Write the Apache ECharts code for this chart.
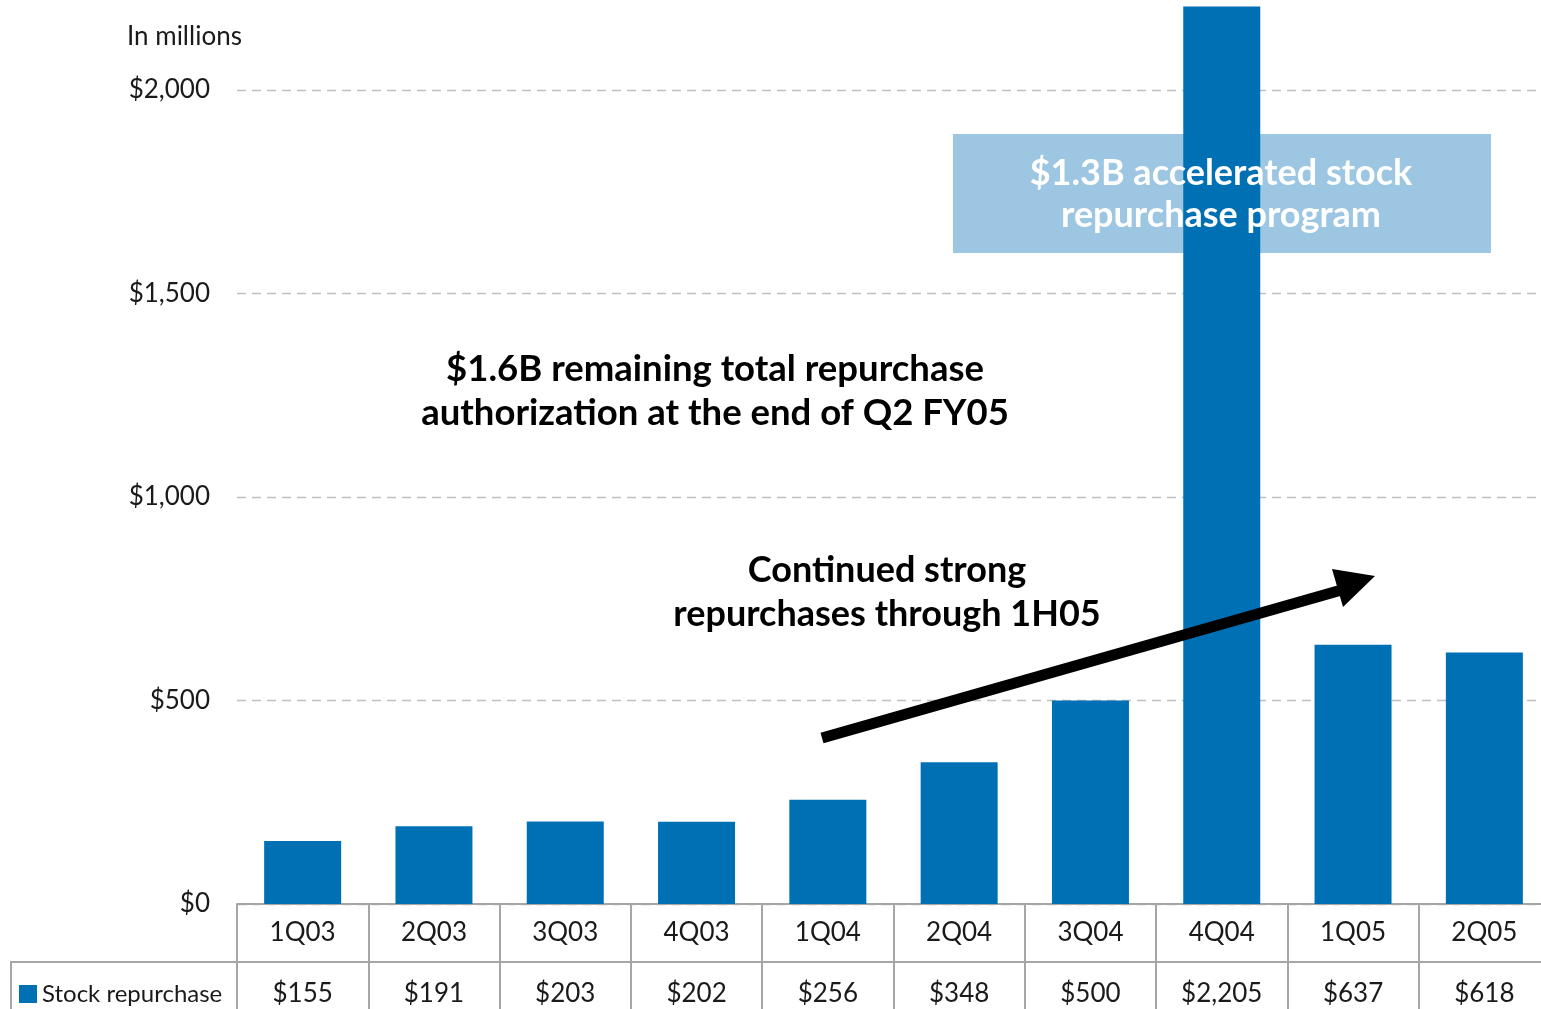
<!DOCTYPE html>
<html>
<head>
<meta charset="utf-8">
<title>Stock repurchase</title>
<script src="https://cdn.jsdelivr.net/npm/echarts@6/dist/echarts.min.js"></script>
<style>
  html, body { margin: 0; padding: 0; background: #fff; }
  #chart { width: 1541px; height: 1009px; }
</style>
</head>
<body>
<div id="chart"></div>
<script>
// Quarterly stock repurchases, in millions of dollars
const quarters = ['1Q03', '2Q03', '3Q03', '4Q03', '1Q04', '2Q04', '3Q04', '4Q04', '1Q05', '2Q05'];
const repurchases = [155, 191, 203, 202, 256, 348, 500, 2205, 637, 618];
const yTicks = [0, 500, 1000, 1500, 2000];

const BLUE = '#0070b4';
const FONT = 'Lato, "Open Sans", "DejaVu Sans", sans-serif';
const money = v => '$' + v.toLocaleString('en-US');

const chart = echarts.init(document.getElementById('chart'), null, { renderer: 'canvas' });

const option = {
  backgroundColor: '#ffffff',
  animation: false,
  textStyle: { fontFamily: FONT },
  grid: { left: 237, right: -9, top: -113.5, bottom: 105,
          containLabel: false, outerBoundsMode: 'none' },
  legend: {
    data: ['Stock repurchase'],
    left: 14, top: 977,
    icon: 'rect', itemWidth: 18, itemHeight: 18, itemGap: 7,
    textStyle: { fontFamily: FONT, fontSize: 24, color: '#1a1a1a' }
  },
  xAxis: [
    {
      type: 'category',
      data: quarters,
      position: 'bottom',
      axisLine: { show: true, lineStyle: { color: '#a6a6a6', width: 2 } },
      axisTick: { show: true, inside: false, length: 110, alignWithLabel: false,
                  lineStyle: { color: '#a6a6a6', width: 2 } },
      axisLabel: { margin: 16, fontFamily: FONT, fontSize: 26, color: '#1a1a1a' },
      splitLine: { show: false }
    },
    {
      // values row of the data table
      type: 'category',
      data: repurchases.map(money),
      position: 'bottom',
      offset: 58,
      axisLine: { show: false },
      axisTick: { show: false },
      axisLabel: { margin: 19, fontFamily: FONT, fontSize: 26, color: '#1a1a1a' },
      splitLine: { show: false }
    }
  ],
  yAxis: {
    type: 'value',
    min: 0, max: 2500, interval: 500,
    axisLine: { show: false },
    axisTick: { show: false },
    axisLabel: {
      margin: 27, fontFamily: FONT, fontSize: 26, color: '#1a1a1a',
      formatter: v => (yTicks.indexOf(v) >= 0 ? money(v) : '')
    },
    splitLine: { show: true, lineStyle: { color: '#bfbfbf', type: [9, 6], width: 1.3 } }
  },
  series: [
    {
      name: 'Stock repurchase',
      type: 'bar',
      data: repurchases,
      barWidth: 77,
      itemStyle: { color: BLUE },
      z: 2
    }
  ],
  graphic: [
    { type: 'text', left: 127, top: 24, z: 10,
      style: { text: 'In millions', font: '26px ' + FONT, fill: '#1a1a1a' } },
    // table separator line under the quarter labels
    { type: 'line', z: 1,
      shape: { x1: 10, y1: 962, x2: 1541, y2: 962 },
      style: { stroke: '#a6a6a6', lineWidth: 2 } },
    { type: 'line', z: 1,
      shape: { x1: 11, y1: 962, x2: 11, y2: 1009 },
      style: { stroke: '#a6a6a6', lineWidth: 2 } },
    // accelerated program callout
    { type: 'rect', z: 1,
      shape: { x: 953, y: 134, width: 538, height: 119 },
      style: { fill: '#9cc6e1' } },
    { type: 'text', z: 10, x: 1221, y: 194,
      style: { text: '$1.3B accelerated stock\nrepurchase program', font: 'bold 36px ' + FONT,
               fill: '#ffffff', align: 'center', verticalAlign: 'middle', lineHeight: 42 } },
    { type: 'text', z: 10, x: 715, y: 391,
      style: { text: '$1.6B remaining total repurchase\nauthorization at the end of Q2 FY05', font: 'bold 36.5px ' + FONT,
               fill: '#000000', align: 'center', verticalAlign: 'middle', lineHeight: 44 } },
    { type: 'text', z: 10, x: 887, y: 592,
      style: { text: 'Continued strong\nrepurchases through 1H05', font: 'bold 36px ' + FONT,
               fill: '#000000', align: 'center', verticalAlign: 'middle', lineHeight: 44 } },
    // trend arrow
    { type: 'line', z: 10,
      shape: { x1: 822, y1: 738, x2: 1345, y2: 589 },
      style: { stroke: '#000000', lineWidth: 11 } },
    { type: 'polygon', z: 10,
      shape: { points: [[1375, 576], [1332, 569], [1343, 607]] },
      style: { fill: '#000000' } }
  ]
};

chart.setOption(option);
</script>
</body>
</html>
